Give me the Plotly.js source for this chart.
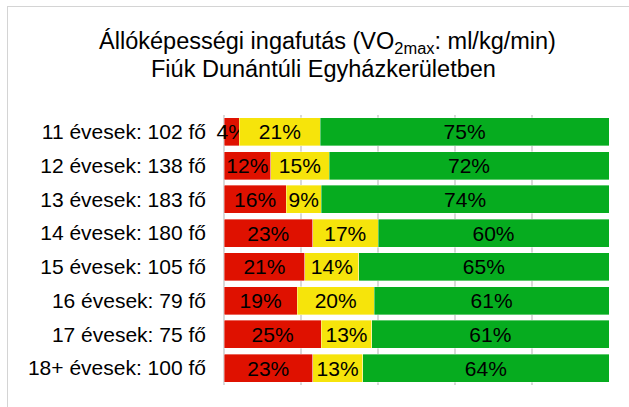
<!DOCTYPE html>
<html>
<head>
<meta charset="utf-8">
<script src="https://cdn.plot.ly/plotly-3.0.1.min.js"></script>
<style>
  html, body { margin: 0; padding: 0; background: #fff; }
  #wrap { position: relative; width: 629px; height: 407px; overflow: hidden; }
  #chart { position: absolute; left: 0; top: 0; width: 629px; height: 407px; }
  #frame { position: absolute; left: 7px; top: 6px; width: 800px; height: 600px;
           border-left: 1.5px solid #d4d4d4; border-top: 1.5px solid #d4d4d4; pointer-events: none; }
</style>
</head>
<body>
<div id="wrap">
  <div id="chart"></div>
  <div id="frame"></div>
</div>
<script>
const categories = [
  "11 évesek: 102 fő",
  "12 évesek: 138 fő",
  "13 évesek: 183 fő",
  "14 évesek: 180 fő",
  "15 évesek: 105 fő",
  "16 évesek: 79 fő",
  "17 évesek: 75 fő",
  "18+ évesek: 100 fő"
];
const redValues    = [4, 12, 16, 23, 21, 19, 25, 23];
const yellowValues = [21, 15, 9, 17, 14, 20, 13, 13];
const greenValues  = [75, 72, 74, 60, 65, 61, 61, 64];
const titleLine1 = "Állóképességi ingafutás (VO<sub>2max</sub>: ml/kg/min)";
const titleLine2 = "Fiúk Dunántúli Egyházkerületben";

const FONT = "Liberation Sans, Arial, sans-serif";

function seg(vals, color, name) {
  return {
    type: "bar",
    orientation: "h",
    name: name,
    y: categories,
    x: vals,
    text: vals,
    texttemplate: "%{text}%",
    textposition: "inside",
    insidetextanchor: "middle",
    textangle: 0,
    constraintext: "none",
    cliponaxis: false,
    textfont: { family: FONT, size: 21, color: "#000" },
    marker: { color: color, line: { color: "rgba(255,255,255,0.6)", width: 0.6 } },
    hoverinfo: "skip"
  };
}

const data = [
  seg(redValues, "#df1100", "red"),
  seg(yellowValues, "#f6e40b", "yellow"),
  seg(greenValues, "#06ac1f", "green")
];

const layout = {
  width: 629,
  height: 407,
  margin: { l: 224, r: 20, t: 115, b: 22 },
  paper_bgcolor: "rgba(0,0,0,0)",
  plot_bgcolor: "rgba(0,0,0,0)",
  barmode: "stack",
  barnorm: "percent",
  bargap: 0.165,
  showlegend: false,
  uniformtext: { mode: "show", minsize: 21 },
  font: { family: FONT, color: "#000" },
  title: {
    text: titleLine1,
    font: { family: FONT, size: 23.5, color: "#000" },
    xref: "container",
    x: 0.5207,
    xanchor: "center",
    yref: "container",
    y: 0.8993,
    yanchor: "middle"
  },
  annotations: [{
    text: titleLine2,
    xref: "paper",
    yref: "paper",
    x: 0.2584,
    y: 1.1722,
    xanchor: "center",
    yanchor: "middle",
    showarrow: false,
    font: { family: FONT, size: 23.5, color: "#000" }
  }],
  xaxis: {
    range: [0, 100],
    dtick: 20,
    tick0: 0,
    showticklabels: false,
    showgrid: true,
    gridcolor: "#d9d9d9",
    gridwidth: 1.5,
    zeroline: true,
    zerolinecolor: "#d9d9d9",
    zerolinewidth: 1.5,
    showline: false,
    fixedrange: true
  },
  yaxis: {
    autorange: "reversed",
    showgrid: false,
    zeroline: false,
    showline: false,
    ticks: "",
    ticklabelstandoff: 17,
    tickfont: { family: FONT, size: 21, color: "#000" },
    fixedrange: true
  }
};

Plotly.newPlot("chart", data, layout, { staticPlot: true, displayModeBar: false });
</script>
</body>
</html>
